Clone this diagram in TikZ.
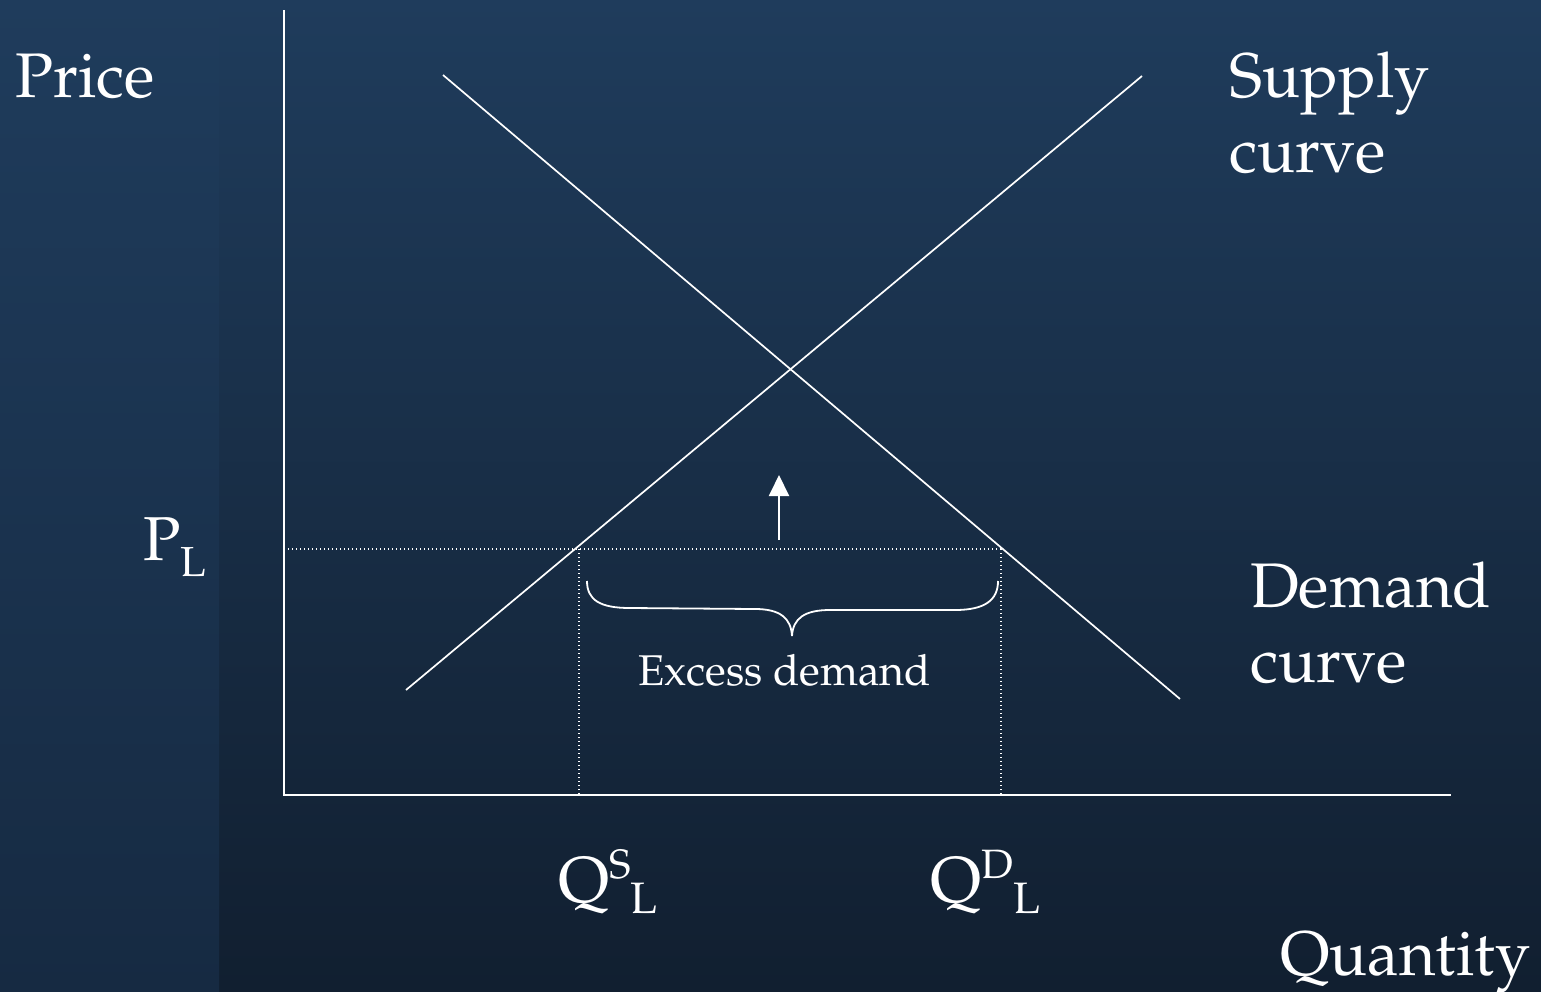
\documentclass[tikz,border=0pt]{standalone}
\usepackage[T1]{fontenc}
\usepackage{mathpazo}
\usetikzlibrary{arrows.meta}
\definecolor{bgtop}{HTML}{1F3C5C}
\definecolor{bgbot}{HTML}{111F30}
\definecolor{striptop}{HTML}{1F3C5C}
\definecolor{stripbot}{HTML}{162A42}
\tikzset{
  lbl/.style={text=white, inner sep=0pt, anchor=base west},
  curveline/.style={draw=white, line width=1.7pt},
  axisline/.style={draw=white, line width=2.3pt},
  dotline/.style={draw=white, line width=1.4pt, dash pattern=on 1.4pt off 2.6pt},
}
\begin{document}
\begin{tikzpicture}[x=1pt,y=-1pt]
\useasboundingbox (0,0) rectangle (1541,991);
\shade[top color=bgtop, bottom color=bgbot] (219,0) rectangle (1541,991);
\shade[top color=striptop, bottom color=stripbot] (0,0) rectangle (219,991);
% axes
\coordinate (ytop) at (284,10);
\coordinate (orig) at (284,795);
\coordinate (xend) at (1451,795);
\draw[axisline] (ytop) -- (orig) -- (xend);
% curves
\coordinate (d1) at (443,75);
\coordinate (d2) at (1180,699);
\coordinate (s1) at (406,690);
\coordinate (s2) at (1142,76);
\draw[curveline] (d1) -- (d2);
\draw[curveline] (s1) -- (s2);
% price floor lines
\coordinate (pl) at (284,549);
\coordinate (qs) at (579,549);
\coordinate (qd) at (1001,549);
\coordinate (qsb) at (579,795);
\coordinate (qdb) at (1001,795);
\draw[dotline] (pl) -- (qd);
\draw[dotline] (qs) -- (qsb);
\draw[dotline] (qd) -- (qdb);
% arrow
\coordinate (a1) at (779,540);
\coordinate (a2) at (779,475);
\draw[white, line width=2pt, -{Triangle[width=20pt,length=21pt]}] (a1) -- (a2);
% brace
\coordinate (b1) at (587,581);
\coordinate (btip) at (792,636);
\coordinate (b2) at (998,581);
\draw[white, line width=1.8pt] (b1) .. controls (587,600) and (600,608) .. (630,608)
  -- (755,609) .. controls (780,609) and (791,618) .. (btip)
  .. controls (793,618) and (805,610) .. (830,610)
  -- (955,610) .. controls (985,610) and (998,600) .. (b2);
% labels
\node[lbl, font=\fontsize{63}{75}\selectfont] (price) at (15,97) {Price};
\node[lbl, font=\fontsize{63}{75}\selectfont, align=left] (supply) at (1229,172) {Supply\\curve};
\node[lbl, font=\fontsize{63}{75}\selectfont, align=left] (demand) at (1250,682) {Demand\\curve};
\node[lbl, font=\fontsize{63}{75}\selectfont] (quantity) at (1280,975) {Quantity};
\node[lbl, font=\fontsize{43}{50}\selectfont] (excess) at (638,685) {Excess demand};
\node[lbl] (plabel) at (143,560) {\fontsize{62}{70}\selectfont P\raisebox{-16pt}{\fontsize{42}{48}\selectfont L}};
\node[lbl] (qslabel) at (558,902) {\fontsize{65}{76}\selectfont Q\raisebox{24pt}{\fontsize{41}{46}\selectfont S}\raisebox{-11pt}{\fontsize{44}{58}\selectfont L}};
\node[lbl] (qdlabel) at (930,902) {\fontsize{65}{76}\selectfont Q\raisebox{24pt}{\fontsize{41}{46}\selectfont D}\raisebox{-11pt}{\fontsize{44}{58}\selectfont L}};
\end{tikzpicture}
\end{document}
